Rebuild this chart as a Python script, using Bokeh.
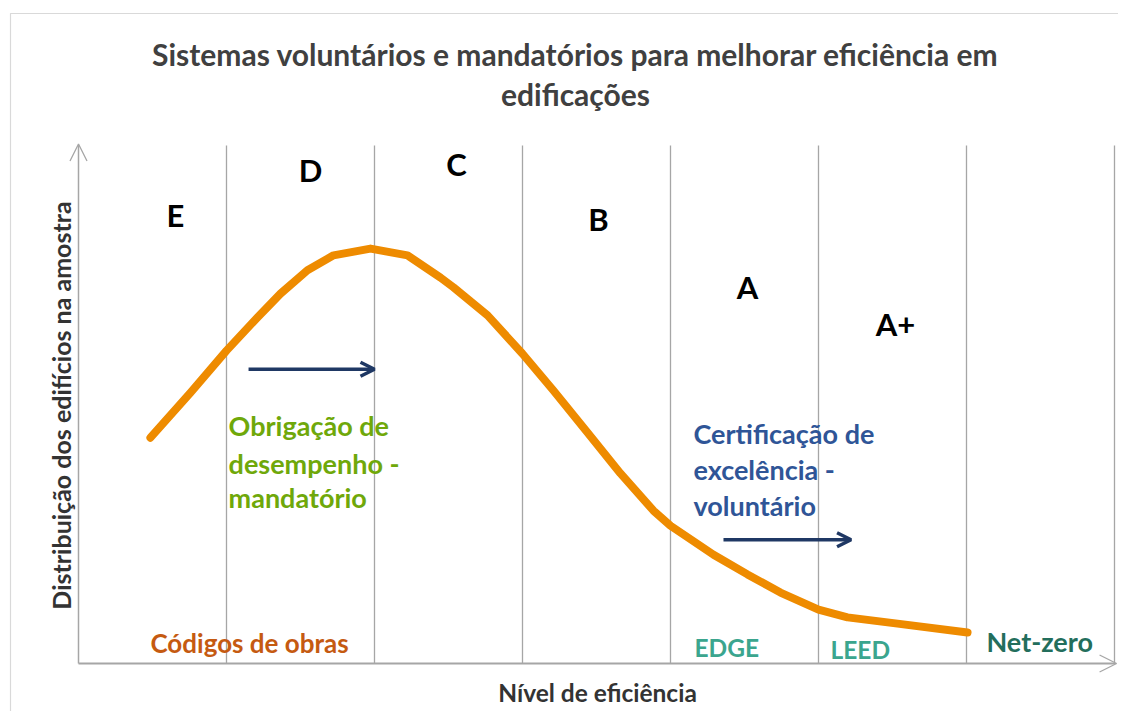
from bokeh.plotting import figure
from bokeh.models import Range1d, Arrow, OpenHead
from bokeh.core.properties import value
from bokeh.embed import file_html
from bokeh.resources import INLINE
import math

# ---- data ----
curve_x = [0.486, 0.757, 1.000, 1.209, 1.365, 1.547, 1.723, 1.973, 2.223, 2.446, 2.534,
           2.764, 3.000, 3.209, 3.439, 3.662, 3.885, 4.000, 4.291, 4.520, 4.743,
           5.000, 5.196, 5.534, 6.007]
curve_y = [43.6, 52.3, 60.4, 66.8, 71.4, 75.9, 78.8, 80.1, 78.8, 74.5, 72.6,
           67.2, 59.8, 52.7, 44.6, 36.7, 29.5, 26.6, 21.0, 17.2, 13.7,
           10.4, 8.9, 7.7, 6.0]
band_edges = [1, 2, 3, 4, 5, 6, 7]
band_labels = ["E", "D", "C", "B", "A", "A+"]
band_label_x = [0.655, 1.568, 2.554, 3.514, 4.52, 5.52]
band_label_y = [86.5, 95.2, 96.5, 85.9, 72.6, 65.6]

title_lines = ["Sistemas voluntários e mandatórios para melhorar eficiência em", "edificações"]
x_title = "Nível de eficiência"
y_title = "Distribuição dos edifícios na amostra"
mandatory_lines = ["Obrigação de", "desempenho  -", "mandatório"]
voluntary_lines = ["Certificação de", "excelência -", "voluntário"]

FONT = value("Lato")
W, H = 1118, 711
XS = 148.0   # px per band
YS = 5.18    # px per y unit
X0, Y0 = 78, 663  # pixel position of the origin

p = figure(width=W, height=H, output_backend="svg", toolbar_location=None,
           x_range=Range1d(-X0 / XS, (W - X0) / XS),
           y_range=Range1d(-(H - Y0) / YS, Y0 / YS),
           x_axis_type=None, y_axis_type=None, min_border=0)
p.grid.visible = False
p.outline_line_color = None
p.background_fill_color = "white"
p.border_fill_color = "white"

# outer chart border
p.quad(left=[-68 / XS], right=[20], top=[650 / YS], bottom=[-40],
       fill_color=None, line_color="#D9D9D9", line_width=1.2)

# vertical band lines
p.segment(x0=band_edges, x1=band_edges, y0=[0] * 7, y1=[100] * 7,
          line_color="#A6A6A6", line_width=1.3)

# axes with arrows
axis_col = "#A6A6A6"
p.add_layout(Arrow(end=OpenHead(size=17, line_color=axis_col, line_width=1.3),
                   x_start=0, y_start=0, x_end=0, y_end=100.3,
                   line_color=axis_col, line_width=1.5))
p.add_layout(Arrow(end=OpenHead(size=17, line_color=axis_col, line_width=1.3),
                   x_start=0, y_start=0, x_end=7.014, y_end=0,
                   line_color=axis_col, line_width=2))

# curve
p.line(curve_x, curve_y, line_color="#EE8B00", line_width=8,
       line_cap="round", line_join="round")

# band letters
p.text(x=band_label_x, y=band_label_y, text=band_labels, text_font=FONT,
       text_font_style="bold", text_font_size="31px", text_color="black",
       text_align="center", text_baseline="middle")

# arrows for shifts
navy = "#1F3864"
p.add_layout(Arrow(end=OpenHead(size=14, line_color=navy, line_width=3.5),
                   x_start=1.149, y_start=56.8, x_end=2.0, y_end=56.8,
                   line_color=navy, line_width=3.5))
p.add_layout(Arrow(end=OpenHead(size=14, line_color=navy, line_width=3.5),
                   x_start=4.358, y_start=23.9, x_end=5.22, y_end=23.9,
                   line_color=navy, line_width=3.5))

# mandatory / voluntary texts
p.text(x=[1.014] * 3, y=[45.9, 38.6, 32.0], text=mandatory_lines, text_font=FONT,
       text_font_style="bold", text_font_size="27px", text_color="#6FA80A",
       text_align="left", text_baseline="middle")
p.text(x=[4.155] * 3, y=[44.4, 37.5, 30.5], text=voluntary_lines, text_font=FONT,
       text_font_style="bold", text_font_size="27px", text_color="#2F5597",
       text_align="left", text_baseline="middle")

# bottom labels
p.text(x=[0.486], y=[4.05], text=["Códigos de obras"], text_font=FONT,
       text_font_style="bold", text_font_size="26px", text_color="#C55A11",
       text_align="left", text_baseline="middle")
p.text(x=[4.162, 5.081], y=[3.1, 2.7], text=["EDGE", "LEED"], text_font=FONT,
       text_font_style="bold", text_font_size="24.5px", text_color="#3BA58E",
       text_align="left", text_baseline="middle")
p.text(x=[6.135], y=[4.2], text=["Net-zero"], text_font=FONT,
       text_font_style="bold", text_font_size="27px", text_color="#236E5C",
       text_align="left", text_baseline="middle")

# titles
p.text(x=[3.358, 3.358], y=[117.6, 110.0], text=title_lines, text_font=FONT,
       text_font_style="bold", text_font_size="30px", text_color="#404040",
       text_align="center", text_baseline="middle")
p.text(x=[3.507], y=[-5.6], text=[x_title], text_font=FONT,
       text_font_style="bold", text_font_size="24.5px", text_color="#333333",
       text_align="center", text_baseline="middle")
p.text(x=[-0.1216], y=[49.8], text=[y_title], text_font=FONT,
       text_font_style="bold", text_font_size="25px", text_color="#333333",
       text_align="center", text_baseline="middle", angle=math.pi / 2)

open("out.html", "w").write(file_html(p, INLINE))
